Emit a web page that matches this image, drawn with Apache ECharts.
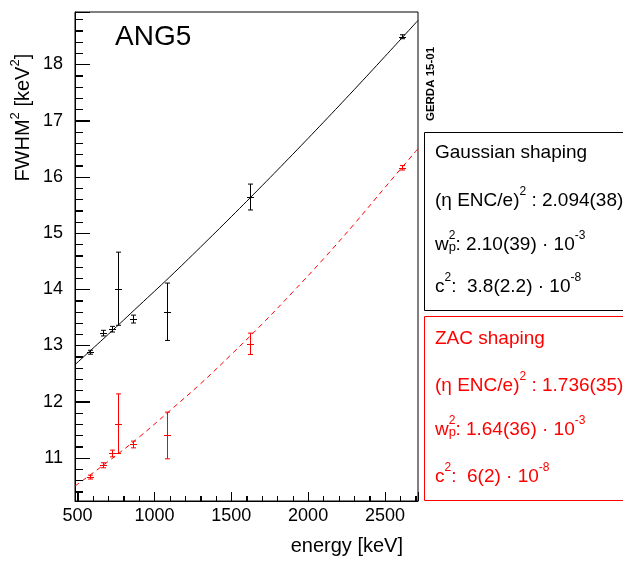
<!DOCTYPE html>
<html><head><meta charset="utf-8">
<script src="https://cdn.jsdelivr.net/npm/echarts@6/dist/echarts.min.js"></script>
<style>html,body{margin:0;padding:0;background:#fff}#c{width:623px;height:562px}</style>
</head><body><div id="c"></div>
<script>
// ---- data ----
const energies = [583, 662, 727, 763, 861, 1079, 1620, 2614];
const gaussFwhm2 = [12.88, 13.22, 13.29, 14.01, 13.47, 13.60, 15.64, 18.49];
const gaussErr   = [0.035, 0.05, 0.05, 0.65, 0.07, 0.51, 0.23, 0.035];
const zacFwhm2   = [10.66, 10.87, 11.08, 11.61, 11.24, 11.40, 13.03, 16.16];
const zacErr     = [0.035, 0.045, 0.06, 0.53, 0.06, 0.415, 0.19, 0.04];
const fitEnergies = [483, 700, 900, 1100, 1300, 1500, 1700, 1900, 2100, 2300, 2500, 2715];
const gaussFit = [12.66, 13.20, 13.71, 14.22, 14.75, 15.29, 15.84, 16.40, 16.97, 17.55, 18.14, 18.78];
const zacFit   = [10.50, 10.94, 11.37, 11.84, 12.32, 12.84, 13.38, 13.95, 14.54, 15.16, 15.81, 16.50];
const xTickLabels = [500, 1000, 1500, 2000, 2500];
const yTickLabels = [11, 12, 13, 14, 15, 16, 17, 18];
const gaussTitle = 'Gaussian shaping';
const zacTitle = 'ZAC shaping';
const gaussParams = ['2.094(38)', '2.10(39)', '3.8(2.2)'];
const zacParams = ['1.736(35)', '1.64(36)', '6(2)'];

const FONT = '"Liberation Sans", Arial, Helvetica, sans-serif';
const X_MIN = 483, X_MAX = 2715, Y_MIN = 10.235, Y_MAX = 18.93;

// tick marks (axis structure): major + minor, drawn inside the frame
const tickItems = [];
for (let v = 500; v <= 2700; v += 100) tickItems.push([0, v, v % 500 === 0 ? 9 : 5]);
for (let k = 52; k <= 94; k++) { const v = k / 5; tickItems.push([1, v, k % 5 === 0 ? 15 : 8]); }

function tickRender(params, api) {
  const kind = api.value(0), v = api.value(1), len = api.value(2);
  const st = { stroke: '#000', lineWidth: 1, fill: null };
  if (kind === 0) {
    const p = api.coord([v, Y_MIN]);
    const x = Math.round(p[0]) + 0.5;
    return { type: 'line', shape: { x1: x, y1: p[1], x2: x, y2: p[1] - len }, style: st };
  }
  const p = api.coord([X_MIN, v]);
  const y = Math.round(p[1]) + 0.5;
  return { type: 'line', shape: { x1: p[0], y1: y, x2: p[0] + len, y2: y }, style: st };
}

function errRender(color) {
  return function (params, api) {
    const x = api.value(0), y = api.value(1), e = api.value(2);
    const t = api.coord([x, y + e]), b = api.coord([x, y - e]), c = api.coord([x, y]);
    const st = { stroke: color, lineWidth: 1, fill: null };
    const px = Math.round(c[0]) + 0.5;
    return { type: 'group', children: [
      { type: 'line', shape: { x1: px, y1: t[1], x2: px, y2: b[1] }, style: st },
      { type: 'line', shape: { x1: px - 2.5, y1: t[1], x2: px + 2.5, y2: t[1] }, style: st },
      { type: 'line', shape: { x1: px - 2.5, y1: b[1], x2: px + 2.5, y2: b[1] }, style: st },
      { type: 'line', shape: { x1: px - 3.5, y1: Math.round(c[1]) + 0.5, x2: px + 3.5, y2: Math.round(c[1]) + 0.5 }, style: st }
    ]};
  };
}

function rich(color) {
  const base = { fontFamily: FONT, fill: color, color: color };
  return {
    m:  Object.assign({ fontSize: 19, lineHeight: 30 }, base),
    sa: Object.assign({ fontSize: 12, lineHeight: 25, verticalAlign: 'top' }, base),
    sb: Object.assign({ fontSize: 12, lineHeight: 17, verticalAlign: 'top' }, base),
    sc: Object.assign({ fontSize: 12, lineHeight: 8, verticalAlign: 'top' }, base)
  };
}

const measureCtx = document.createElement('canvas').getContext('2d');
measureCtx.font = '19px ' + FONT;
const wWidth = measureCtx.measureText('w').width;

function legendBlock(color, title, p, baselines) {
  const r = rich(color);
  const lines = [
    '{m|' + title + '}',
    '{m|(\u03b7 ENC/e)}{sa|2}{m| : ' + p[0] + '}',
    '{m|w}{sc|2}{m|: ' + p[1] + ' \u00b7 10}{sc|-3}',
    '{m|c}{sb|2}{m|:  ' + p[2] + ' \u00b7 10}{sb|-8}'
  ];
  const els = lines.map((t, i) => ({
    type: 'text', x: 435, y: baselines[i] - 6.6,
    style: { text: t, rich: r, align: 'left', verticalAlign: 'middle', fill: color, font: '19px ' + FONT }
  }));
  els.push({ type: 'text', x: 435 + wWidth, y: baselines[2] - 4.5,
    style: { text: 'p', fill: color, font: '13px ' + FONT, align: 'left', verticalAlign: 'middle' } });
  return els;
}

const chart = echarts.init(document.getElementById('c'), null, { renderer: 'canvas' });
const axisTextStyle = { color: '#000', fontSize: 18, fontFamily: FONT };
chart.setOption({
  animation: false,
  backgroundColor: '#fff',
  grid: { left: 75, right: 205, top: 12, bottom: 61, show: true, borderColor: '#000', borderWidth: 1, backgroundColor: 'transparent' },
  xAxis: {
    type: 'value', min: X_MIN, max: X_MAX, minInterval: 500, maxInterval: 500, position: 'bottom',
    axisLine: { show: true, lineStyle: { color: '#000', width: 1 } },
    axisTick: { show: true, inside: true, length: 9, lineStyle: { color: '#000' } },
    minorTick: { show: true, splitNumber: 5, length: 5, lineStyle: { color: '#000' } },
    axisLabel: Object.assign({ margin: 6, formatter: v => xTickLabels.includes(v) ? String(v) : '' }, axisTextStyle),
    splitLine: { show: false }, minorSplitLine: { show: false }
  },
  yAxis: {
    type: 'value', min: Y_MIN, max: Y_MAX, minInterval: 1, maxInterval: 1, position: 'left',
    axisLine: { show: true, lineStyle: { color: '#000', width: 1 } },
    axisTick: { show: true, inside: true, length: 15, lineStyle: { color: '#000' } },
    minorTick: { show: true, splitNumber: 5, length: 8, lineStyle: { color: '#000' } },
    axisLabel: Object.assign({ margin: 12, formatter: v => yTickLabels.includes(Math.round(v * 1000) / 1000) ? String(v) : '' }, axisTextStyle),
    splitLine: { show: false }, minorSplitLine: { show: false }
  },
  series: [
    { type: 'custom', name: 'ticks', renderItem: tickRender, data: tickItems, silent: true, z: 5 },
    { type: 'line', name: 'gaussFit', data: fitEnergies.map((e, i) => [e, gaussFit[i]]),
      smooth: 0.4, showSymbol: false, symbol: 'none', lineStyle: { color: '#000', width: 1 }, z: 3 },
    { type: 'line', name: 'zacFit', data: fitEnergies.map((e, i) => [e, zacFit[i]]),
      smooth: 0.4, showSymbol: false, symbol: 'none', lineStyle: { color: '#ff0000', width: 1, type: [5, 4] }, z: 3 },
    { type: 'custom', name: 'gauss', renderItem: errRender('#000'),
      encode: { x: 0, y: 1 }, data: energies.map((e, i) => [e, gaussFwhm2[i], gaussErr[i]]), z: 4 },
    { type: 'custom', name: 'zac', renderItem: errRender('#ff0000'),
      encode: { x: 0, y: 1 }, data: energies.map((e, i) => [e, zacFwhm2[i], zacErr[i]]), z: 4 }
  ],
  graphic: [].concat(
    [
      { type: 'text', x: 115, y: 37, style: { text: 'ANG5', font: '28px ' + FONT, fill: '#000', align: 'left', verticalAlign: 'middle' } },
      { type: 'text', x: 431, y: 84, rotation: Math.PI / 2,
        style: { text: 'GERDA 15-01', font: 'bold 11.5px ' + FONT, fill: '#000', align: 'center', verticalAlign: 'middle' } },
      { type: 'text', x: 23.8, y: 117.7, rotation: Math.PI / 2,
        style: { text: '{m|FWHM}{s|2}{m| [keV}{s|2}{m|]}', align: 'center', verticalAlign: 'middle', fill: '#000', font: '20px ' + FONT,
          rich: { m: { fontSize: 20, lineHeight: 30, fontFamily: FONT, fill: '#000' },
                  s: { fontSize: 13, lineHeight: 23, verticalAlign: 'top', fontFamily: FONT, fill: '#000' } } } },
      { type: 'text', x: 403, y: 546, style: { text: 'energy [keV]', font: '20px ' + FONT, fill: '#000', align: 'right', verticalAlign: 'middle' } },
      { type: 'rect', shape: { x: 424.5, y: 132.5, width: 220, height: 178 }, style: { fill: '#fff', stroke: '#000', lineWidth: 1 } },
      { type: 'rect', shape: { x: 424.5, y: 316.5, width: 220, height: 184 }, style: { fill: '#fff', stroke: '#ff0000', lineWidth: 1 } }
    ],
    legendBlock('#000', gaussTitle, gaussParams, [159.3, 207, 251.7, 293.3]),
    legendBlock('#ff0000', zacTitle, zacParams, [345, 392.7, 436.7, 483.3])
  )
});
</script>
</body></html>
